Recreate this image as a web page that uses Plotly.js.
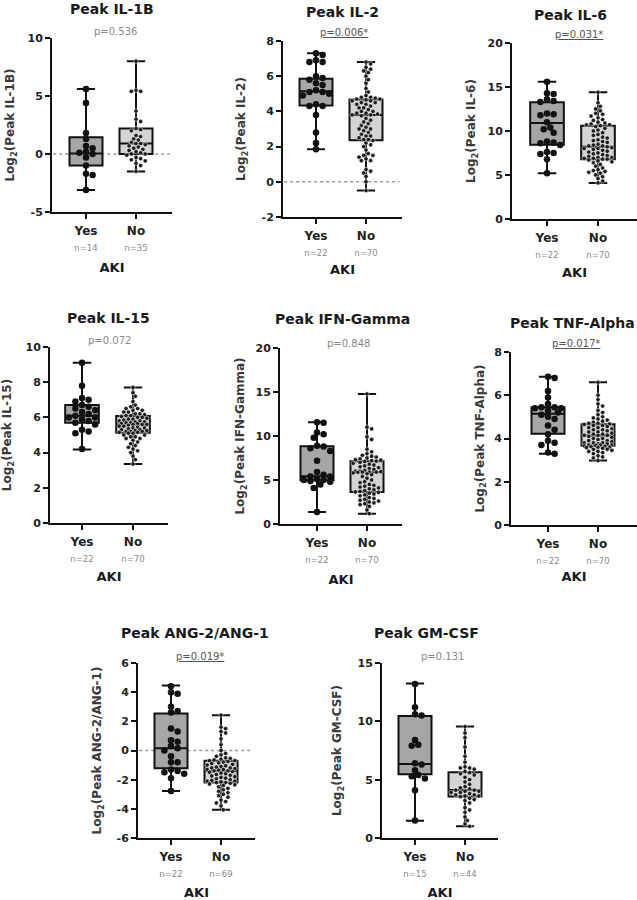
<!DOCTYPE html>
<html>
<head>
<meta charset="utf-8">
<script src="https://cdn.plot.ly/plotly-3.0.1.min.js"></script>
<style>html,body{margin:0;padding:0;background:#fff;}#chart{width:637px;height:900px;}</style>
</head>
<body>
<div id="chart"></div>
<script>
// ---------------- DATA ----------------
const categories = ['Yes', 'No'];
const groupTitle = 'AKI';

// box summaries: [min, q1, median, q3, max]
const il1bYes = [5.6, 4.4, 1.8, 1.3, 0.7, 0.5, 0.2, 0.1, 0.0, -0.3, -1.0, -1.7, -1.8, -3.1];
const il1bNo = [8.0, 5.5, 5.4, 5.4, 3.7, 3.0, 2.8, 2.2, 2.1, 2.0, 1.6, 1.5, 1.3, 1.2, 1.0, 0.9, 0.9, 0.8, 0.7, 0.6, 0.5, 0.4, 0.3, 0.2, 0.1, 0.0, 0.0, -0.1, -0.3, -0.4, -0.5, -0.6, -0.8, -1.0, -1.5];
const il1bBoxYes = [-3.1, -1.0, 0.05, 1.45, 5.6];
const il1bBoxNo = [-1.5, 0.0, 0.9, 2.2, 8.0];

const il2Yes = [7.3, 7.2, 6.9, 6.8, 6.8, 6.0, 5.9, 5.8, 5.6, 5.5, 5.2, 5.1, 5.1, 5.0, 4.9, 4.4, 4.3, 4.3, 3.8, 2.8, 2.2, 1.85];
const il2No = [6.8, 6.7, 6.5, 6.4, 6.3, 6.2, 6.0, 5.8, 5.6, 5.3, 5.1, 4.9, 4.8, 4.8, 4.75, 4.7, 4.7,
  4.65, 4.6, 4.6, 4.5, 4.5, 4.4, 4.4, 4.3, 4.2, 4.2, 4.1, 4.0, 4.0, 3.9, 3.9, 3.85, 3.8, 3.8,
  3.75, 3.6, 3.5, 3.4, 3.3, 3.2, 3.1, 3.0, 3.0, 2.9, 2.8, 2.7, 2.6, 2.6, 2.5, 2.4, 2.4, 2.35,
  2.2, 2.1, 2.0, 1.8, 1.6, 1.5, 1.5, 1.4, 1.3, 1.2, 1.2, 0.7, 0.6, 0.5, 0.3, 0.0, -0.5];
const il2BoxYes = [1.85, 4.34, 5.15, 5.86, 7.3];
const il2BoxNo = [-0.5, 2.36, 3.8, 4.67, 6.8];

const il6Yes = [15.6, 14.3, 14.2, 13.6, 13.4, 13.3, 12.0, 11.9, 11.8, 11.0, 10.4, 10.2, 9.8, 8.8, 8.7, 8.6, 8.4, 7.6, 7.5, 7.4, 6.8, 5.2];
const il6No = [14.4, 13.2, 12.8, 12.5, 12.3, 12.0, 11.9, 11.7, 11.5, 11.3, 11.2, 11.0, 10.9, 10.8, 10.7, 10.7, 10.6,
  10.5, 10.3, 10.1, 10.0, 9.8, 9.6, 9.5, 9.3, 9.2, 9.0, 8.9, 8.8, 8.7, 8.5, 8.4, 8.3, 8.3, 8.2,
  8.1, 8.0, 8.0, 7.9, 7.8, 7.7, 7.6, 7.5, 7.4, 7.3, 7.2, 7.1, 7.0, 7.0, 6.9, 6.9, 6.8, 6.8,
  6.7, 6.6, 6.5, 6.4, 6.2, 6.0, 5.8, 5.6, 5.5, 5.4, 5.3, 5.2, 5.0, 4.8, 4.6, 4.3, 4.1];
const il6BoxYes = [5.2, 8.45, 10.9, 13.26, 15.6];
const il6BoxNo = [4.1, 6.8, 8.2, 10.6, 14.4];

const il15Yes = [9.1, 7.8, 7.1, 7.0, 6.9, 6.7, 6.6, 6.5, 6.4, 6.3, 6.2, 6.1, 6.0, 6.0, 5.9, 5.8, 5.7, 5.6, 5.3, 5.2, 5.1, 4.2];
const il15No = [7.7, 7.4, 7.2, 6.9, 6.7, 6.6, 6.5, 6.5, 6.4, 6.4, 6.3, 6.3, 6.2, 6.2, 6.15, 6.1, 6.1,
  6.05, 6.0, 6.0, 5.95, 5.9, 5.9, 5.85, 5.8, 5.8, 5.75, 5.75, 5.7, 5.7, 5.65, 5.65, 5.6, 5.6, 5.6,
  5.55, 5.5, 5.5, 5.45, 5.4, 5.4, 5.35, 5.3, 5.3, 5.25, 5.25, 5.2, 5.2, 5.2, 5.15, 5.15, 5.1, 5.1,
  5.0, 5.0, 4.9, 4.9, 4.8, 4.8, 4.7, 4.6, 4.5, 4.4, 4.3, 4.2, 4.1, 4.0, 3.8, 3.6, 3.35];
const il15BoxYes = [4.18, 5.7, 6.1, 6.7, 9.1];
const il15BoxNo = [3.35, 5.13, 5.6, 6.08, 7.7];

const ifngYes = [11.55, 11.5, 10.4, 10.2, 9.8, 8.9, 8.8, 8.6, 8.3, 7.2, 5.9, 5.6, 5.4, 5.4, 5.1, 5.0, 5.0, 4.9, 4.8, 4.5, 4.1, 1.36];
const ifngNo = [14.77, 11.0, 10.8, 9.9, 9.6, 8.5, 8.2, 8.0, 7.8, 7.7, 7.6, 7.5, 7.4, 7.3, 7.25, 7.2, 7.15,
  7.1, 7.0, 6.9, 6.8, 6.7, 6.6, 6.5, 6.4, 6.3, 6.2, 6.1, 6.0, 6.0, 5.95, 5.9, 5.9, 5.9, 5.87,
  5.8, 5.7, 5.6, 5.4, 5.2, 5.0, 4.8, 4.7, 4.5, 4.4, 4.3, 4.2, 4.1, 4.0, 3.9, 3.8, 3.7, 3.65,
  3.6, 3.5, 3.4, 3.3, 3.2, 3.0, 2.9, 2.8, 2.7, 2.6, 2.5, 2.4, 2.3, 2.2, 2.0, 1.6, 1.17];
const ifngBoxYes = [1.36, 4.96, 5.42, 8.83, 11.55];
const ifngBoxNo = [1.17, 3.64, 5.87, 7.12, 14.77];

const tnfYes = [6.85, 6.8, 6.2, 5.9, 5.6, 5.45, 5.45, 5.4, 5.4, 5.3, 5.2, 5.1, 5.0, 4.9, 4.6, 4.4, 4.2, 3.9, 3.8, 3.7, 3.35, 3.3];
const tnfNo = [6.6, 6.0, 5.8, 5.6, 5.5, 5.3, 5.2, 5.1, 5.0, 4.95, 4.9, 4.85, 4.8, 4.75, 4.7, 4.7, 4.67,
  4.65, 4.6, 4.6, 4.55, 4.5, 4.5, 4.45, 4.4, 4.4, 4.35, 4.3, 4.3, 4.25, 4.2, 4.2, 4.15, 4.15, 4.14,
  4.1, 4.05, 4.0, 4.0, 3.95, 3.9, 3.9, 3.85, 3.8, 3.8, 3.8, 3.75, 3.75, 3.7, 3.7, 3.7, 3.68, 3.66,
  3.64, 3.62, 3.6, 3.6, 3.58, 3.55, 3.5, 3.5, 3.45, 3.4, 3.4, 3.35, 3.3, 3.2, 3.15, 3.1, 2.98];
const tnfBoxYes = [3.3, 4.22, 5.14, 5.45, 6.85];
const tnfBoxNo = [2.98, 3.66, 4.14, 4.66, 6.6];

const angYes = [4.4, 4.0, 3.9, 3.0, 2.7, 2.6, 1.5, 1.3, 0.7, 0.6, 0.3, 0.15, 0.0, -0.4, -0.8, -0.8, -1.3, -1.4, -1.5, -1.6, -1.9, -2.77];
const angNo = [2.42, 1.6, 1.5, 1.3, 1.2, 0.8, 0.4, 0.0, -0.2, -0.3, -0.4, -0.5, -0.55, -0.6, -0.65, -0.7, -0.7,
  -0.75, -0.8, -0.85, -0.9, -0.95, -1.0, -1.05, -1.1, -1.15, -1.2, -1.2, -1.25, -1.3, -1.3, -1.35, -1.4, -1.4,
  -1.45, -1.5, -1.55, -1.6, -1.65, -1.7, -1.75, -1.8, -1.85, -1.9, -1.95, -2.0, -2.05, -2.1, -2.1, -2.15, -2.2, -2.2,
  -2.25, -2.3, -2.35, -2.4, -2.5, -2.6, -2.7, -2.8, -2.9, -3.0, -3.1, -3.2, -3.4, -3.5, -3.6, -3.8, -4.07];
const angBoxYes = [-2.77, -1.22, 0.15, 2.54, 4.45];
const angBoxNo = [-4.07, -2.2, -1.4, -0.7, 2.42];

const gmcsfYes = [13.2, 11.2, 10.6, 10.5, 8.4, 8.0, 7.9, 6.4, 6.3, 5.8, 5.4, 5.3, 5.1, 4.1, 1.5];
const gmcsfNo = [9.55, 9.0, 8.6, 7.8, 7.0, 6.5, 6.1, 6.0, 6.0, 5.9, 5.7,
  5.6, 5.5, 5.4, 5.2, 5.0, 4.8, 4.6, 4.4, 4.3, 4.2, 4.1,
  4.1, 4.0, 4.0, 3.9, 3.9, 3.8, 3.7, 3.7, 3.6, 3.6, 3.55,
  3.4, 3.3, 3.2, 3.0, 2.6, 2.4, 2.2, 1.8, 1.5, 1.2, 1.0];
const gmcsfBoxYes = [1.48, 5.46, 6.35, 10.45, 13.25];
const gmcsfBoxNo = [1.0, 3.56, 4.12, 5.63, 9.55];

// panel texts
const panelTitles = ['Peak IL-1B', 'Peak IL-2', 'Peak IL-6', 'Peak IL-15', 'Peak IFN-Gamma', 'Peak TNF-Alpha', 'Peak ANG-2/ANG-1', 'Peak GM-CSF'];
const yTitles = ['Peak IL-1B', 'Peak IL-2', 'Peak IL-6', 'Peak IL-15', 'Peak IFN-Gamma', 'Peak TNF-Alpha', 'Peak ANG-2/ANG-1', 'Peak GM-CSF'];
const pValues = ['p=0.536', 'p=0.006*', 'p=0.031*', 'p=0.072', 'p=0.848', 'p=0.017*', 'p=0.019*', 'p=0.131'];
const pSignificant = [false, true, true, false, false, true, true, false];
const yRanges = [[-5, 10], [-2, 8], [0, 20], [0, 10], [0, 20], [0, 8], [-6, 6], [0, 15]];
const yTicks = [[-5, 0, 5, 10], [-2, 0, 2, 4, 6, 8], [0, 5, 10, 15, 20], [0, 2, 4, 6, 8, 10], [0, 5, 10, 15, 20], [0, 2, 4, 6, 8], [-6, -4, -2, 0, 2, 4, 6], [0, 5, 10, 15]];
const zeroLine = [true, true, false, false, false, false, true, false];

const yesData = [il1bYes, il2Yes, il6Yes, il15Yes, ifngYes, tnfYes, angYes, gmcsfYes];
const noData = [il1bNo, il2No, il6No, il15No, ifngNo, tnfNo, angNo, gmcsfNo];
const yesBox = [il1bBoxYes, il2BoxYes, il6BoxYes, il15BoxYes, ifngBoxYes, tnfBoxYes, angBoxYes, gmcsfBoxYes];
const noBox = [il1bBoxNo, il2BoxNo, il6BoxNo, il15BoxNo, ifngBoxNo, tnfBoxNo, angBoxNo, gmcsfBoxNo];

// ---------------- LAYOUT GEOMETRY (pixels) ----------------
const W = 637, H = 900;
const geom = [
  {l: 52, r: 172, t: 38, b: 212, yes: 86, no: 136, tX: 112, tY: 9, pX: 115, pY: 31, akiSt: 11, ytSt: 10},
  {l: 283, r: 402, t: 41, b: 217, yes: 316, no: 366, tX: 342, tY: 12, pX: 344, pY: 32, akiSt: 8, ytSt: 13},
  {l: 512, r: 637, t: 43, b: 219, yes: 547, no: 598, tX: 570, tY: 15, pX: 579, pY: 34, akiSt: 9, ytSt: 9},
  {l: 50, r: 168, t: 347, b: 523, yes: 82, no: 133, tX: 108, tY: 318, pX: 109, pY: 340, akiSt: 9, ytSt: 11},
  {l: 280, r: 402, t: 348, b: 524, yes: 317, no: 367, tX: 342, tY: 319, pX: 348, pY: 343, akiSt: 11, ytSt: 8},
  {l: 511, r: 637, t: 352, b: 525, yes: 548, no: 598, tX: 572, tY: 323, pX: 576, pY: 343, akiSt: 7, ytSt: 7},
  {l: 138, r: 255, t: 663, b: 838, yes: 171, no: 221, tX: 195, tY: 633, pX: 200, pY: 656, akiSt: 13, ytSt: 12},
  {l: 382, r: 498, t: 663, b: 838, yes: 415, no: 465, tX: 426, tY: 633, pX: 442, pY: 656, akiSt: 13, ytSt: 13}
];
const FONT = 'DejaVu Sans, Liberation Sans, Arial, sans-serif';
const px = x => x / W;
const py = y => 1 - y / H;

// deterministic beeswarm offsets (in pixels -> converted to data units)
function swarm(vals, yr, hPx, unitPx, d, maxHalf) {
  const s = hPx / (yr[1] - yr[0]);
  const idx = vals.map((v, i) => i).sort((a, b) => vals[b] - vals[a]);
  const placed = [];
  const offs = new Array(vals.length).fill(0);
  const step = d * 0.55;
  const cands = [0];
  for (let k = 1; k * step <= maxHalf; k++) { cands.push(k * step); cands.push(-k * step); }
  idx.forEach(i => {
    const y = vals[i] * s;
    let best = null, bestScore = -1;
    for (const c of cands) {
      let minD = Infinity;
      for (const p of placed) {
        const dd = Math.hypot(p.x - c, p.y - y);
        if (dd < minD) minD = dd;
      }
      if (minD >= d * 0.95) { best = c; break; }
      if (minD > bestScore) { bestScore = minD; best = c; }
    }
    placed.push({x: best, y: y});
    offs[i] = best / unitPx;
  });
  return offs;
}

const traces = [];
const layout = {
  width: W, height: H, margin: {l: 0, r: 0, t: 0, b: 0},
  paper_bgcolor: '#fff', plot_bgcolor: '#fff', showlegend: false,
  font: {family: FONT, color: '#222', size: 12},
  annotations: [], shapes: []
};

const nLabel = n => '<span style="font-size:8.5px;font-weight:normal;fill:#8a8a8a">n=' + n + '</span>';

geom.forEach((g, i) => {
  const n = i + 1;
  const xa = n === 1 ? 'x' : 'x' + n;
  const ya = n === 1 ? 'y' : 'y' + n;
  const unit = g.no - g.yes;
  const xr = [(g.l - g.yes) / unit, (g.r - g.yes) / unit];
  const yr = yRanges[i];
  const hPx = g.b - g.t;
  const yv = yesData[i], nv = noData[i];

  layout['xaxis' + (n === 1 ? '' : n)] = {
    domain: [px(g.l), px(g.r)], range: xr, anchor: ya,
    tickvals: [0, 1],
    ticktext: [categories[0] + '<br>' + nLabel(yv.length), categories[1] + '<br>' + nLabel(nv.length)],
    tickfont: {family: FONT, size: 12, color: '#222', weight: 'bold'},
    showline: true, linewidth: 2, linecolor: '#111', mirror: false,
    ticks: 'outside', ticklen: 5, tickwidth: 2, tickcolor: '#111',
    showgrid: false, zeroline: false, fixedrange: true, ticklabelstandoff: 2,
    title: {text: groupTitle, standoff: g.akiSt, font: {family: FONT, size: 13, color: '#1a1a1a', weight: 'bold'}}
  };
  layout['yaxis' + (n === 1 ? '' : n)] = {
    domain: [py(g.b), py(g.t)], range: yr, anchor: xa,
    tickvals: yTicks[i], ticktext: yTicks[i].map(v => String(v)),
    tickfont: {family: FONT, size: 11, color: '#222', weight: 'bold'},
    showline: true, linewidth: 2, linecolor: '#111',
    ticks: 'outside', ticklen: 5, tickwidth: 2, tickcolor: '#111',
    showgrid: false, zeroline: false, fixedrange: true,
    title: {text: 'Log<sub>2</sub>(' + yTitles[i] + ')', standoff: g.ytSt, font: {family: FONT, size: 12, color: '#3a3a3a', weight: 'bold'}}
  };

  if (zeroLine[i]) {
    layout.shapes.push({type: 'line', xref: xa + ' domain', yref: ya, x0: 0.01, x1: 0.98, y0: 0, y1: 0,
      line: {color: '#9a9a9a', width: 1.6, dash: 'dot'}, layer: 'below'});
  }

  [[yesBox[i], 0, '#a6a6a6'], [noBox[i], 1, '#d4d4d4']].forEach(([bx, pos, fill]) => {
    traces.push({
      type: 'box', orientation: 'v', xaxis: xa, yaxis: ya, x: [pos],
      lowerfence: [bx[0]], q1: [bx[1]], median: [bx[2]], q3: [bx[3]], upperfence: [bx[4]],
      width: 0.66, whiskerwidth: 0.55, fillcolor: fill, boxpoints: false,
      line: {color: '#111', width: 2}, hoverinfo: 'skip'
    });
  });

  const yOff = swarm(yv, yr, hPx, unit, 6, 15);
  const nOff = swarm(nv, yr, hPx, unit, 4.2, 14);
  traces.push({type: 'scatter', mode: 'markers', xaxis: xa, yaxis: ya,
    x: yv.map((v, k) => 0 + yOff[k]), y: yv,
    marker: {size: 6.5, color: '#111', line: {width: 0}}, hoverinfo: 'skip', cliponaxis: false});
  traces.push({type: 'scatter', mode: 'markers', xaxis: xa, yaxis: ya,
    x: nv.map((v, k) => 1 + nOff[k]), y: nv,
    marker: {size: 4.3, color: '#1a1a1a', line: {width: 0.5, color: '#ffffff'}}, hoverinfo: 'skip', cliponaxis: false});

  const A = layout.annotations;
  A.push({xref: 'paper', yref: 'paper', x: px(g.tX), y: py(g.tY), text: panelTitles[i], showarrow: false,
    xanchor: 'center', yanchor: 'middle', font: {family: FONT, size: 14, color: '#1a1a1a', weight: 'bold'}});
  A.push({xref: 'paper', yref: 'paper', x: px(g.pX), y: py(g.pY),
    text: pSignificant[i] ? '<u>' + pValues[i] + '</u>' : pValues[i], showarrow: false,
    xanchor: 'center', yanchor: 'middle', font: {family: FONT, size: 10, color: pSignificant[i] ? '#555' : '#8a8a8a'}});
});

Plotly.newPlot('chart', traces, layout, {staticPlot: true, displayModeBar: false});
</script>
</body>
</html>
